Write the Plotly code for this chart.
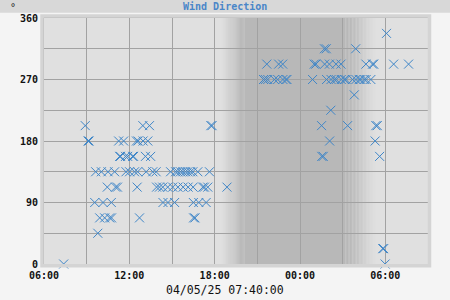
import plotly.graph_objects as go
import pandas as pd

# ---------------- data ----------------
times = [
    "2025-04-04 07:23", "2025-04-04 08:54", "2025-04-04 09:06", "2025-04-04 09:10",
    "2025-04-04 09:34", "2025-04-04 09:38", "2025-04-04 09:47", "2025-04-04 09:55",
    "2025-04-04 10:02", "2025-04-04 10:09", "2025-04-04 10:16", "2025-04-04 10:27",
    "2025-04-04 10:30", "2025-04-04 10:37", "2025-04-04 10:44", "2025-04-04 10:45",
    "2025-04-04 10:58", "2025-04-04 11:02", "2025-04-04 11:10", "2025-04-04 11:15",
    "2025-04-04 11:19", "2025-04-04 11:23", "2025-04-04 11:36", "2025-04-04 11:44",
    "2025-04-04 11:46", "2025-04-04 11:53", "2025-04-04 12:01", "2025-04-04 12:14",
    "2025-04-04 12:18", "2025-04-04 12:22", "2025-04-04 12:30", "2025-04-04 12:33",
    "2025-04-04 12:35", "2025-04-04 12:37", "2025-04-04 12:43", "2025-04-04 12:57",
    "2025-04-04 12:58", "2025-04-04 13:08", "2025-04-04 13:11", "2025-04-04 13:18",
    "2025-04-04 13:25", "2025-04-04 13:30", "2025-04-04 13:39", "2025-04-04 13:53",
    "2025-04-04 13:55", "2025-04-04 14:07", "2025-04-04 14:21", "2025-04-04 14:22",
    "2025-04-04 14:42", "2025-04-04 14:43", "2025-04-04 14:54", "2025-04-04 15:03",
    "2025-04-04 15:11", "2025-04-04 15:15", "2025-04-04 15:24", "2025-04-04 15:25",
    "2025-04-04 15:36", "2025-04-04 15:46", "2025-04-04 15:47", "2025-04-04 15:57",
    "2025-04-04 16:07", "2025-04-04 16:08", "2025-04-04 16:18", "2025-04-04 16:28",
    "2025-04-04 16:29", "2025-04-04 16:30", "2025-04-04 16:31", "2025-04-04 16:37",
    "2025-04-04 16:49", "2025-04-04 16:53", "2025-04-04 17:10", "2025-04-04 17:17",
    "2025-04-04 17:24", "2025-04-04 17:31", "2025-04-04 17:38", "2025-04-04 17:44",
    "2025-04-04 17:49", "2025-04-04 18:52", "2025-04-04 21:26", "2025-04-04 21:34",
    "2025-04-04 21:40", "2025-04-04 21:44", "2025-04-04 22:12", "2025-04-04 22:26",
    "2025-04-04 22:30", "2025-04-04 22:47", "2025-04-04 22:48", "2025-04-04 23:01",
    "2025-04-04 23:05", "2025-04-05 00:53", "2025-04-05 01:00", "2025-04-05 01:07",
    "2025-04-05 01:31", "2025-04-05 01:32", "2025-04-05 01:38", "2025-04-05 01:43",
    "2025-04-05 01:44", "2025-04-05 01:51", "2025-04-05 01:52", "2025-04-05 02:04",
    "2025-04-05 02:05", "2025-04-05 02:10", "2025-04-05 02:11", "2025-04-05 02:25",
    "2025-04-05 02:32", "2025-04-05 02:33", "2025-04-05 02:53", "2025-04-05 02:54",
    "2025-04-05 03:07", "2025-04-05 03:14", "2025-04-05 03:21", "2025-04-05 03:42",
    "2025-04-05 03:49", "2025-04-05 03:55", "2025-04-05 03:56", "2025-04-05 04:10",
    "2025-04-05 04:17", "2025-04-05 04:31", "2025-04-05 04:38", "2025-04-05 04:39",
    "2025-04-05 04:59", "2025-04-05 05:06", "2025-04-05 05:11", "2025-04-05 05:17",
    "2025-04-05 05:20", "2025-04-05 05:26", "2025-04-05 05:36", "2025-04-05 05:49",
    "2025-04-05 05:53", "2025-04-05 05:59", "2025-04-05 06:05", "2025-04-05 06:35",
    "2025-04-05 07:38",
]
direction = [
    0, 202.5, 180, 180,
    90, 135, 45, 67.5,
    135, 90, 67.5, 112.5,
    135, 67.5, 90, 67.5,
    135, 112.5, 112.5, 180,
    157.5, 157.5, 180, 157.5,
    135, 157.5, 135, 157.5,
    157.5, 135, 180, 112.5,
    135, 180, 67.5, 202.5,
    180, 157.5, 135, 180,
    202.5, 157.5, 135, 135,
    112.5, 112.5, 112.5, 90,
    112.5, 90, 135, 112.5,
    90, 135, 135, 112.5,
    135, 135, 112.5, 135,
    135, 112.5, 135, 135,
    112.5, 90, 67.5, 67.5,
    135, 90, 112.5, 112.5,
    90, 112.5, 135, 202.5,
    202.5, 112.5, 270, 270,
    292.5, 270, 270, 270,
    292.5, 292.5, 270, 270,
    270, 270, 292.5, 292.5,
    202.5, 157.5, 157.5, 315,
    292.5, 315, 270, 292.5,
    180, 225, 270, 270,
    292.5, 270, 292.5, 270,
    270, 270, 202.5, 270,
    247.5, 315, 270, 270,
    270, 270, 292.5, 270,
    270, 292.5, 292.5, 180,
    202.5, 202.5, 157.5, 22.5,
    22.5, 0, 337.5, 292.5,
    292.5,
]

x_tickvals = ["2025-04-04 06:00", "2025-04-04 09:00", "2025-04-04 12:00", "2025-04-04 15:00",
              "2025-04-04 18:00", "2025-04-04 21:00", "2025-04-05 00:00", "2025-04-05 03:00",
              "2025-04-05 06:00", "2025-04-05 09:00"]
x_ticktext = ["06:00", "", "12:00", "", "18:00", "", "00:00", "", "06:00", ""]
y_tickvals = [0, 45, 90, 135, 180, 225, 270, 315, 360]
y_ticktext = ["0", "", "90", "", "180", "", "270", "", "360"]

title_text = "Wind Direction"
xlabel_text = "04/05/25 07:40:00"

# night shading: fade in, full dark, fade out
fade_in = ("2025-04-04 18:15", "2025-04-04 20:05")
fade_out = ("2025-04-05 03:12", "2025-04-05 05:32")

# ---------------- styling ----------------
BLUE = "#3f86c8"
LIGHT = (224, 224, 224)
DARK = (184, 184, 184)
FONT = "DejaVu Sans Mono"


def lerp_col(t):
    t = max(0.0, min(1.0, t))
    s = t * t * (3 - 2 * t)
    c = [round(LIGHT[i] + (DARK[i] - LIGHT[i]) * s) for i in range(3)]
    return "rgb(%d,%d,%d)" % tuple(c)


shapes = []
N = 24
a0, a1 = pd.Timestamp(fade_in[0]), pd.Timestamp(fade_in[1])
b0, b1 = pd.Timestamp(fade_out[0]), pd.Timestamp(fade_out[1])
for i in range(N):
    s0 = a0 + (a1 - a0) * i / N
    s1 = a0 + (a1 - a0) * (i + 1) / N
    shapes.append(dict(type="rect", xref="x", yref="paper", x0=s0, x1=s1, y0=0, y1=1,
                       fillcolor=lerp_col((i + 0.5) / N), line=dict(width=0), layer="below"))
shapes.append(dict(type="rect", xref="x", yref="paper", x0=a1, x1=b0, y0=0, y1=1,
                   fillcolor=lerp_col(1), line=dict(width=0), layer="below"))
for i in range(N):
    s0 = b0 + (b1 - b0) * i / N
    s1 = b0 + (b1 - b0) * (i + 1) / N
    shapes.append(dict(type="rect", xref="x", yref="paper", x0=s0, x1=s1, y0=0, y1=1,
                       fillcolor=lerp_col(1 - (i + 0.5) / N), line=dict(width=0), layer="below"))

PW, PH = 384.0, 246.0
# title band
shapes.append(dict(type="rect", xref="paper", yref="paper",
                   x0=-44 / PW, x1=(450 - 44) / PW, y0=1 + 5.3 / PH, y1=1 + 18 / PH,
                   fillcolor="#d8d8d8", line=dict(width=0), layer="below"))
# outer frame
shapes.append(dict(type="rect", xref="paper", yref="paper",
                   x0=-2 / PW, x1=1 + 1.5 / PW, y0=-1.7 / PH, y1=1 + 2 / PH,
                   fillcolor="rgba(0,0,0,0)", line=dict(width=3.5, color="#d4d4d4"), layer="above"))

fig = go.Figure()
fig.add_trace(go.Scatter(
    x=times, y=direction, mode="markers", cliponaxis=False,
    marker=dict(symbol="x-thin", size=9, color=BLUE, line=dict(width=1, color=BLUE)),
    hoverinfo="x+y", showlegend=False,
))

fig.update_layout(
    width=450, height=300,
    margin=dict(l=44, r=22, t=18, b=36),
    paper_bgcolor="#f4f4f4", plot_bgcolor="#e0e0e0",
    shapes=shapes,
    showlegend=False,
    annotations=[
        dict(text=title_text, xref="paper", yref="paper", x=(225 - 44) / PW, y=1 + 11.5 / PH,
             xanchor="center", yanchor="middle", showarrow=False,
             font=dict(family=FONT, size=10, color="#4a86c8", weight="bold")),
        dict(text="°", xref="paper", yref="paper", x=(13 - 44) / PW, y=1 + 11 / PH,
             xanchor="center", yanchor="middle", showarrow=False,
             font=dict(family=FONT, size=10, color="#222222")),
        dict(text=xlabel_text, xref="paper", yref="paper", x=(225 - 44) / PW, y=-26 / PH,
             xanchor="center", yanchor="middle", showarrow=False,
             font=dict(family=FONT, size=11.5, color="#111111")),
    ],
)
fig.update_xaxes(
    type="date", range=["2025-04-04 06:00", "2025-04-05 09:00"],
    tickmode="array", tickvals=x_tickvals, ticktext=x_ticktext,
    showgrid=True, gridcolor="#a2a2a2", gridwidth=1,
    showline=True, linecolor="#a2a2a2", linewidth=1, mirror=True,
    ticks="", ticklabelstandoff=2, zeroline=False,
    tickfont=dict(family=FONT, size=10, color="#111111", weight="bold"),
)
fig.update_yaxes(
    range=[0, 360], tickmode="array", tickvals=y_tickvals, ticktext=y_ticktext,
    showgrid=True, gridcolor="#a2a2a2", gridwidth=1,
    showline=True, linecolor="#a2a2a2", linewidth=1, mirror=True,
    ticks="", ticklabelstandoff=3, zeroline=False,
    tickfont=dict(family=FONT, size=10, color="#111111", weight="bold"),
)

fig.write_html("out.html")
